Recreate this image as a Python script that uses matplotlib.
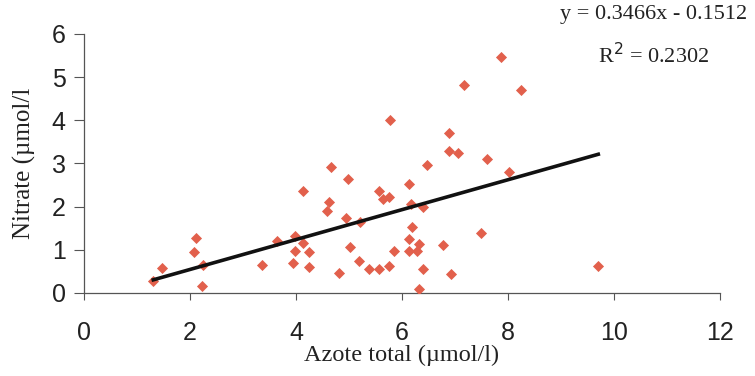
import matplotlib.pyplot as plt
import numpy as np

# azote total (x) vs nitrate (y), umol/l
azote = [1.31, 1.48, 2.11, 2.08, 2.25, 2.22, 3.36, 3.64, 3.98, 3.99, 3.95, 4.14, 4.14,
         4.25, 4.25, 4.67, 4.63, 4.59, 4.82, 4.98, 4.94, 5.01, 5.20, 5.19, 5.38, 5.57,
         5.57, 7.87, 7.16, 8.25, 5.77, 6.89, 6.89, 7.06, 6.48, 7.60, 8.02, 6.13, 5.65,
         5.76, 6.17, 6.39, 6.19, 7.48, 6.13, 6.32, 5.85, 6.13, 6.28, 6.77, 5.76, 6.39,
         6.92, 6.32, 9.70]
nitrate = [0.28, 0.57, 1.27, 0.94, 0.65, 0.15, 0.65, 1.20, 1.32, 0.98, 0.69, 1.16, 2.37,
           0.94, 0.59, 2.92, 2.10, 1.90, 0.46, 2.64, 1.73, 1.06, 1.64, 0.74, 0.55, 0.55,
           2.37, 5.47, 4.81, 4.71, 4.00, 3.70, 3.29, 3.23, 2.96, 3.09, 2.81, 2.52, 2.18,
           2.22, 2.06, 1.98, 1.52, 1.38, 1.24, 1.13, 0.97, 0.97, 0.97, 1.10, 0.63, 0.55,
           0.44, 0.09, 0.63]

slope = 0.3466
intercept = -0.1512
r2 = 0.2302

fig = plt.figure(figsize=(7.55, 3.76), dpi=100)
ax = fig.add_axes([0.111, 0.221, 0.843, 0.689])

ax.scatter(azote, nitrate, marker="D", s=32, color="#e2604c", zorder=3, linewidths=0)

xl = np.array([min(azote), max(azote)])
ax.plot(xl, slope * xl + intercept, color="#111111", lw=2.6, zorder=4)

ax.set_xlim(0, 12)
ax.set_ylim(0, 6)
ax.set_xticks(range(0, 13, 2))
ax.set_yticks(range(0, 7))

for s in ["top", "right"]:
    ax.spines[s].set_visible(False)
for s in ["left", "bottom"]:
    ax.spines[s].set_color("#555555")
    ax.spines[s].set_linewidth(0.9)

ax.tick_params(axis="x", direction="out", length=5, pad=15, labelsize=18,
               color="#555555", labelcolor="#222222")
ax.tick_params(axis="y", direction="out", length=7, pad=6, labelsize=18,
               color="#555555", labelcolor="#222222")
for lab in ax.get_xticklabels() + ax.get_yticklabels():
    lab.set_fontfamily("Liberation Sans")

ax.set_xlabel("Azote total (µmol/l)", fontfamily="Liberation Serif", fontsize=17.5,
              color="#222222", labelpad=0)
ax.set_ylabel("Nitrate (µmol/l", fontfamily="Liberation Serif", fontsize=18,
              color="#222222", labelpad=11)

fig.text(0.866, 0.962, f"y = {slope}x - {abs(intercept)}", ha="center", va="center",
         fontfamily="Liberation Serif", fontsize=16, color="#222222")
fig.text(0.866, 0.852, f"R$^2$ = {r2}", ha="center", va="center",
         fontfamily="Liberation Serif", fontsize=16, color="#222222")

fig.savefig("out.png", dpi=100)
